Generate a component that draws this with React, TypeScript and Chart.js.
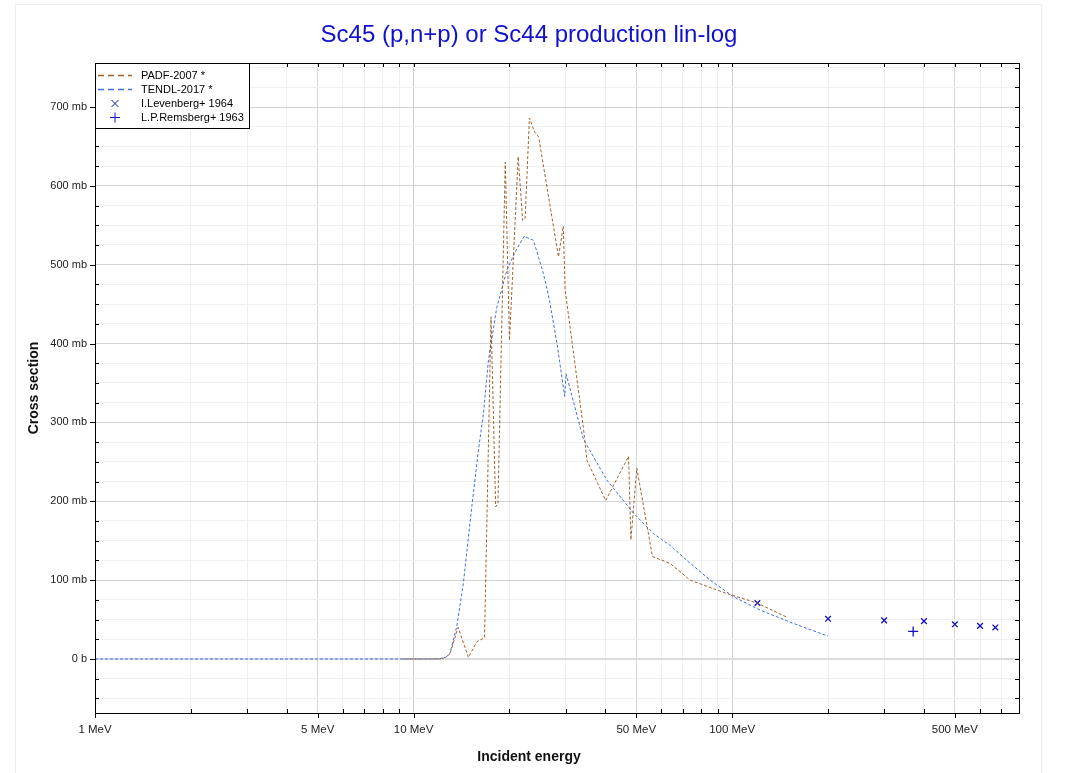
import React, { useEffect, useRef } from "react";
import { Chart, registerables } from "chart.js";

Chart.register(...registerables);

// ---- Data ----
const padfEnergy = [9.25, 12.3, 13.0, 13.8, 14.86, 15.8, 16.7, 17.5, 18.1, 18.4, 19.4, 20.0, 21.3, 22.0, 22.4, 23.1, 24.0, 24.7, 28.5, 29.5, 29.9, 34.1, 35.0, 40.1, 47.3, 48.1, 50.2, 56.2, 63.9, 73.8, 96.2, 119.6, 148.5];
const padfXS = [0, 0, 6, 40, 2, 22, 27, 434, 193, 197, 630, 404, 637, 556, 559, 686, 668, 662, 510, 549, 468, 294, 252, 201, 257, 151, 242, 130, 121, 100, 83, 71, 53];

const tendlEnergy = [1, 5, 10, 11.5, 12.1, 12.6, 13.0, 13.66, 14.33, 15.23, 15.98, 16.57, 17.18, 18.25, 19.62, 20.83, 22.23, 23.78, 25.56, 26.7, 28.2, 29.8, 30.1, 34.1, 40.4, 49.0, 56.6, 63.9, 72.1, 85.3, 100.9, 122.4, 155.8, 200];
const tendlXS = [0, 0, 0, 0, 0.5, 2, 7, 41, 96, 193, 265, 311, 379, 446, 493, 516, 536, 531, 489, 455, 400, 333, 362, 279, 227, 185, 159, 144, 125, 100, 79, 62, 45, 29];

const levenbergEnergy = [120, 200, 300, 400, 500, 600, 670];
const levenbergXS = [71, 51, 49, 48, 44, 42, 40];

const remsbergEnergy = [370];
const remsbergXS = [35];

const energyTicks = [1, 2, 3, 4, 5, 6, 7, 8, 9, 10, 20, 30, 40, 50, 60, 70, 80, 90, 100, 200, 300, 400, 500, 600, 700];
const energyLabels: Record<number, string> = { 1: "1 MeV", 5: "5 MeV", 10: "10 MeV", 50: "50 MeV", 100: "100 MeV", 500: "500 MeV" };
const xsTicks = [-50, -25, 0, 25, 50, 75, 100, 125, 150, 175, 200, 225, 250, 275, 300, 325, 350, 375, 400, 425, 450, 475, 500, 525, 550, 575, 600, 625, 650, 675, 700, 725, 750];

const TITLE = "Sc45 (p,n+p) or Sc44 production lin-log";
const X_TITLE = "Incident energy";
const Y_TITLE = "Cross section";

const FONT = '"Liberation Sans", Arial, sans-serif';
const BROWN = "#a0612b";
const BLUE = "#3f6fe6";
const MARK = "#1010c0";

const toPts = (xs: number[], ys: number[]) => xs.map((x, i) => ({ x, y: ys[i] }));

const decorPlugin = {
  id: "decor",
  afterDraw(chart: any) {
    const { ctx, chartArea: a, scales } = chart;
    const xs = scales.x;
    const ys = scales.y;
    ctx.save();
    // frame
    ctx.strokeStyle = "#000";
    ctx.lineWidth = 1;
    ctx.strokeRect(Math.round(a.left) + 0.5, Math.round(a.top) + 0.5, Math.round(a.right - a.left), Math.round(a.bottom - a.top));
    // ticks
    ctx.beginPath();
    energyTicks.forEach((v) => {
      const px = Math.round(xs.getPixelForValue(v)) + 0.5;
      const major = energyLabels[v] !== undefined;
      if (major) {
        ctx.moveTo(px, a.bottom);
        ctx.lineTo(px, a.bottom + 5);
      } else {
        ctx.moveTo(px, a.bottom);
        ctx.lineTo(px, a.bottom - 4);
      }
      ctx.moveTo(px, a.top);
      ctx.lineTo(px, a.top + 4);
    });
    xsTicks.forEach((v) => {
      const py = Math.round(ys.getPixelForValue(v)) + 0.5;
      const major = v % 100 === 0;
      if (major) {
        ctx.moveTo(a.left, py);
        ctx.lineTo(a.left - 5, py);
      } else {
        ctx.moveTo(a.left, py);
        ctx.lineTo(a.left + 4, py);
      }
      ctx.moveTo(a.right, py);
      ctx.lineTo(a.right - 4, py);
    });
    ctx.stroke();

    // title
    ctx.fillStyle = "#1111cc";
    ctx.font = `24px ${FONT}`;
    ctx.textAlign = "center";
    ctx.textBaseline = "middle";
    ctx.fillText(TITLE, 529, 35);

    // axis titles
    ctx.fillStyle = "#111";
    ctx.font = `bold 14px ${FONT}`;
    ctx.fillText(X_TITLE, 529, 757);
    ctx.save();
    ctx.translate(34, (a.top + a.bottom) / 2);
    ctx.rotate(-Math.PI / 2);
    ctx.fillText(Y_TITLE, 0, 0);
    ctx.restore();

    // legend
    const lx = Math.round(a.left) + 0.5;
    const ly = Math.round(a.top) + 0.5;
    ctx.fillStyle = "#fff";
    ctx.fillRect(lx, ly, 154, 65);
    ctx.strokeStyle = "#000";
    ctx.strokeRect(lx, ly, 154, 65);
    ctx.font = `11px ${FONT}`;
    ctx.textAlign = "left";
    chart.data.datasets.forEach((ds: any, i: number) => {
      const cy = 75.5 + i * 14;
      ctx.strokeStyle = ds.borderColor;
      if (ds.showLine) {
        ctx.lineWidth = 1.5;
        ctx.setLineDash([6, 4]);
        ctx.beginPath();
        ctx.moveTo(98, cy);
        ctx.lineTo(132, cy);
        ctx.stroke();
        ctx.setLineDash([]);
      } else {
        ctx.lineWidth = 1;
        ctx.beginPath();
        if (ds.pointStyle === "crossRot") {
          ctx.moveTo(111.5, cy - 3.5);
          ctx.lineTo(118.5, cy + 3.5);
          ctx.moveTo(111.5, cy + 3.5);
          ctx.lineTo(118.5, cy - 3.5);
        } else {
          ctx.moveTo(110, cy);
          ctx.lineTo(120, cy);
          ctx.moveTo(115, cy - 5);
          ctx.lineTo(115, cy + 5);
        }
        ctx.stroke();
      }
      ctx.fillStyle = "#000";
      ctx.fillText(ds.label, 141, cy);
    });
    ctx.restore();
  },
};

export default function App() {
  const canvasRef = useRef<HTMLCanvasElement | null>(null);

  useEffect(() => {
    const canvas = canvasRef.current;
    if (!canvas) return;
    const chart = new Chart(canvas, {
      type: "scatter",
      data: {
        datasets: [
          {
            label: "PADF-2007 *",
            data: toPts(padfEnergy, padfXS),
            showLine: true,
            borderColor: BROWN,
            borderWidth: 1,
            borderDash: [3, 2],
            pointRadius: 0,
            tension: 0,
          },
          {
            label: "TENDL-2017 *",
            data: toPts(tendlEnergy, tendlXS),
            showLine: true,
            borderColor: BLUE,
            borderWidth: 1,
            borderDash: [3, 2],
            pointRadius: 0,
            tension: 0,
          },
          {
            label: "I.Levenberg+ 1964",
            data: toPts(levenbergEnergy, levenbergXS),
            showLine: false,
            borderColor: MARK,
            backgroundColor: MARK,
            borderWidth: 1.3,
            pointStyle: "crossRot",
            pointRadius: 4,
          },
          {
            label: "L.P.Remsberg+ 1963",
            data: toPts(remsbergEnergy, remsbergXS),
            showLine: false,
            borderColor: MARK,
            backgroundColor: MARK,
            borderWidth: 1.3,
            pointStyle: "cross",
            pointRadius: 5,
          },
        ],
      },
      options: {
        responsive: false,
        animation: false,
        layout: { padding: { left: 0, right: 48, top: 63, bottom: 0 } },
        plugins: {
          legend: { display: false },
          tooltip: { enabled: false },
          title: { display: false },
        },
        scales: {
          x: {
            type: "logarithmic",
            min: 1,
            max: 795,
            afterBuildTicks: (scale: any) => {
              scale.ticks = energyTicks.map((v) => ({ value: v }));
            },
            afterFit: (scale: any) => {
              scale.height = 60;
            },
            ticks: {
              autoSkip: false,
              maxRotation: 0,
              padding: 10,
              color: "#222",
              font: { family: FONT, size: 11.5 },
              callback: (v: any) => energyLabels[Number(v)] ?? "",
            },
            grid: {
              drawTicks: false,
              color: (c: any) => {
                const v = c.tick ? c.tick.value : 0;
                if (v === 1 || v === 10 || v === 100) return "#cccccc";
                if (v === 5 || v === 50 || v === 500) return "#d8d8d8";
                return "#efefef";
              },
              lineWidth: 1,
            },
            border: { display: false },
          },
          y: {
            type: "linear",
            min: -68.5,
            max: 755.8,
            afterBuildTicks: (scale: any) => {
              scale.ticks = xsTicks.map((v) => ({ value: v }));
            },
            afterFit: (scale: any) => {
              scale.width = 95;
            },
            ticks: {
              autoSkip: false,
              padding: 8,
              color: "#222",
              font: { family: FONT, size: 11 },
              callback: (v: any) => {
                const n = Number(v);
                if (n % 100 !== 0) return "";
                return n === 0 ? "0 b" : `${n} mb`;
              },
            },
            grid: {
              drawTicks: false,
              color: (c: any) => {
                const v = c.tick ? c.tick.value : 1;
                if (v === 0) return "#dcdcdc";
                if (v % 100 === 0) return "#d4d4d4";
                return "#f0f0f0";
              },
              lineWidth: (c: any) => (c.tick && c.tick.value === 0 ? 2 : 1),
            },
            border: { display: false },
          },
        },
      },
      plugins: [decorPlugin],
    } as any);
    return () => chart.destroy();
  }, []);

  return (
    <div>
      <div
        style={{
          position: "fixed",
          left: 15,
          top: 4,
          width: 1027,
          height: 800,
          border: "1px solid #ececec",
          boxSizing: "border-box",
        }}
      />
      <canvas
        ref={canvasRef}
        width={1067}
        height={773}
        style={{ position: "fixed", left: 0, top: 0, width: 1067, height: 773 }}
      />
    </div>
  );
}
